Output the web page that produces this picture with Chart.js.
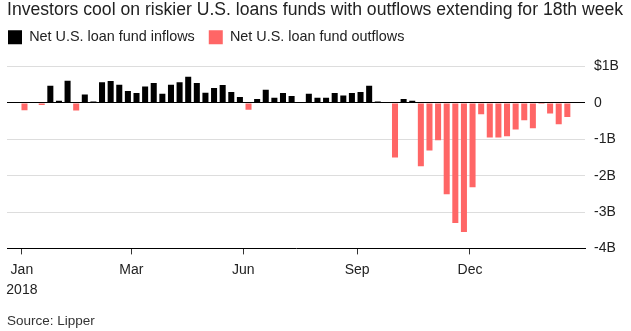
<!DOCTYPE html>
<html>
<head>
<meta charset="utf-8">
<script src="https://cdn.jsdelivr.net/npm/chart.js@4/dist/chart.umd.min.js"></script>
<style>
  html, body { margin: 0; padding: 0; background: #fff; }
</style>
</head>
<body>
<canvas id="flowChart" width="631" height="331"></canvas>
<script>
'use strict';

// weekly net flows into U.S. loan funds, $ billions (week 0 = first week of 2018)
var flows = [
  -0.20, 0, -0.06, 0.47, 0.06, 0.61, -0.21, 0.23, 0.04, 0.57,
  0.60, 0.50, 0.33, 0.27, 0.45, 0.55, 0.25, 0.50, 0.57, 0.72,
  0.55, 0.28, 0.41, 0.49, 0.30, 0.16, -0.19, 0.11, 0.36, 0.14,
  0.27, 0.19, 0, 0.25, 0.14, 0.14, 0.27, 0.20, 0.27, 0.30,
  0.47, 0.04, -0.02, -1.50, 0.11, 0.06, -1.74, -1.31, -1.03, -2.51,
  -3.30, -3.55, -2.32, -0.31, -0.95, -0.95, -0.92, -0.73, -0.48, -0.70,
  -0.03, -0.29, -0.59, -0.39
];

var tickWeeks = [-0.3, 12.4, 25.4, 38.6, 51.7];
var tickLabels = [['Jan', '2018'], 'Mar', 'Jun', 'Sep', 'Dec'];
var yTicks = [-4, -3, -2, -1, 0, 1];
var yTickLabels = ['-4B', '-3B', '-2B', '-1B', '0', '$1B'];
var xMin = -2.03;
var xMax = 65.05;

var inflowPoints = [];
var outflowPoints = [];
for (var i = 0; i < flows.length; i++) {
  if (flows[i] > 0) {
    inflowPoints.push({x: i, y: flows[i]});
  } else if (flows[i] < 0) {
    outflowPoints.push({x: i, y: flows[i]});
  }
}

var fontFamily = '"Liberation Sans", Arial, sans-serif';

//legend sits further left and higher than chart.js puts it
var nudgeLegend = {
  id: 'nudgeLegend',
  afterLayout: function(chart) {
    chart.legend.left -= 13;
    chart.legend.right -= 13;
    chart.legend.top -= 12;
  }
};

var ctx = document.getElementById('flowChart');

var flowChart = new Chart(ctx, {
  type: 'bar',
  data: {
    datasets: [
      {
        label: 'Net U.S. loan fund inflows',
        data: inflowPoints,
        backgroundColor: '#000000'
      },
      {
        label: 'Net U.S. loan fund outflows',
        data: outflowPoints,
        backgroundColor: '#ff6666'
      }
    ]
  },
  options: {
    responsive: false,
    animation: false,
    layout: {padding: {left: 7, right: 0, top: 0, bottom: 2}},
    datasets: {
      bar: {grouped: false, barPercentage: 0.7, categoryPercentage: 1}
    },
    plugins: {
      title: {
        display: true,
        text: 'Investors cool on riskier U.S. loans funds with outflows extending for 18th week',
        align: 'start',
        color: '#222',
        font: {family: fontFamily, size: 17.6, weight: 'normal'},
        padding: {top: 0, bottom: 7}
      },
      legend: {
        align: 'start',
        labels: {
          boxWidth: 14,
          boxHeight: 14,
          padding: 14,
          color: '#222',
          font: {family: fontFamily, size: 14.4}
        }
      },
      subtitle: {
        display: true,
        position: 'bottom',
        align: 'start',
        text: 'Source: Lipper',
        color: '#333',
        font: {family: fontFamily, size: 13.5, weight: 'normal'},
        padding: {top: 6, bottom: 0}
      },
      tooltip: {enabled: false}
    },
    scales: {
      x: {
        type: 'linear',
        min: xMin,
        max: xMax,
        offset: false,
        grid: {offset: false, drawOnChartArea: false, drawTicks: true, tickLength: 6, color: '#333'},
        border: {display: true, color: '#000'},
        afterBuildTicks: function(scale) {
          scale.ticks = tickWeeks.map(function(v) { return {value: v}; });
        },
        afterFit: function(scale) {
          scale.height = 58.4;
        },
        ticks: {
          autoSkip: false,
          maxRotation: 0,
          padding: 6,
          color: '#222',
          font: {family: fontFamily, size: 14, lineHeight: 1.4},
          callback: function(value, index) {
            return tickLabels[index];
          }
        }
      },
      y: {
        position: 'right',
        min: -4,
        max: 1,
        border: {display: false},
        grid: {
          drawTicks: false,
          lineWidth: 1,
          color: function(c) {
            if (c.tick.value === 0) return '#000';
            if (c.tick.value === -4) return 'rgba(0,0,0,0)';
            return '#dddddd';
          }
        },
        afterBuildTicks: function(scale) {
          scale.ticks = yTicks.map(function(v) { return {value: v}; });
        },
        afterFit: function(scale) {
          scale.width = 46;
        },
        ticks: {
          padding: 9,
          color: '#222',
          font: {family: fontFamily, size: 14},
          callback: function(value) {
            return yTickLabels[yTicks.indexOf(value)];
          }
        }
      }
    }
  },
  plugins: [nudgeLegend]
});
</script>
</body>
</html>
